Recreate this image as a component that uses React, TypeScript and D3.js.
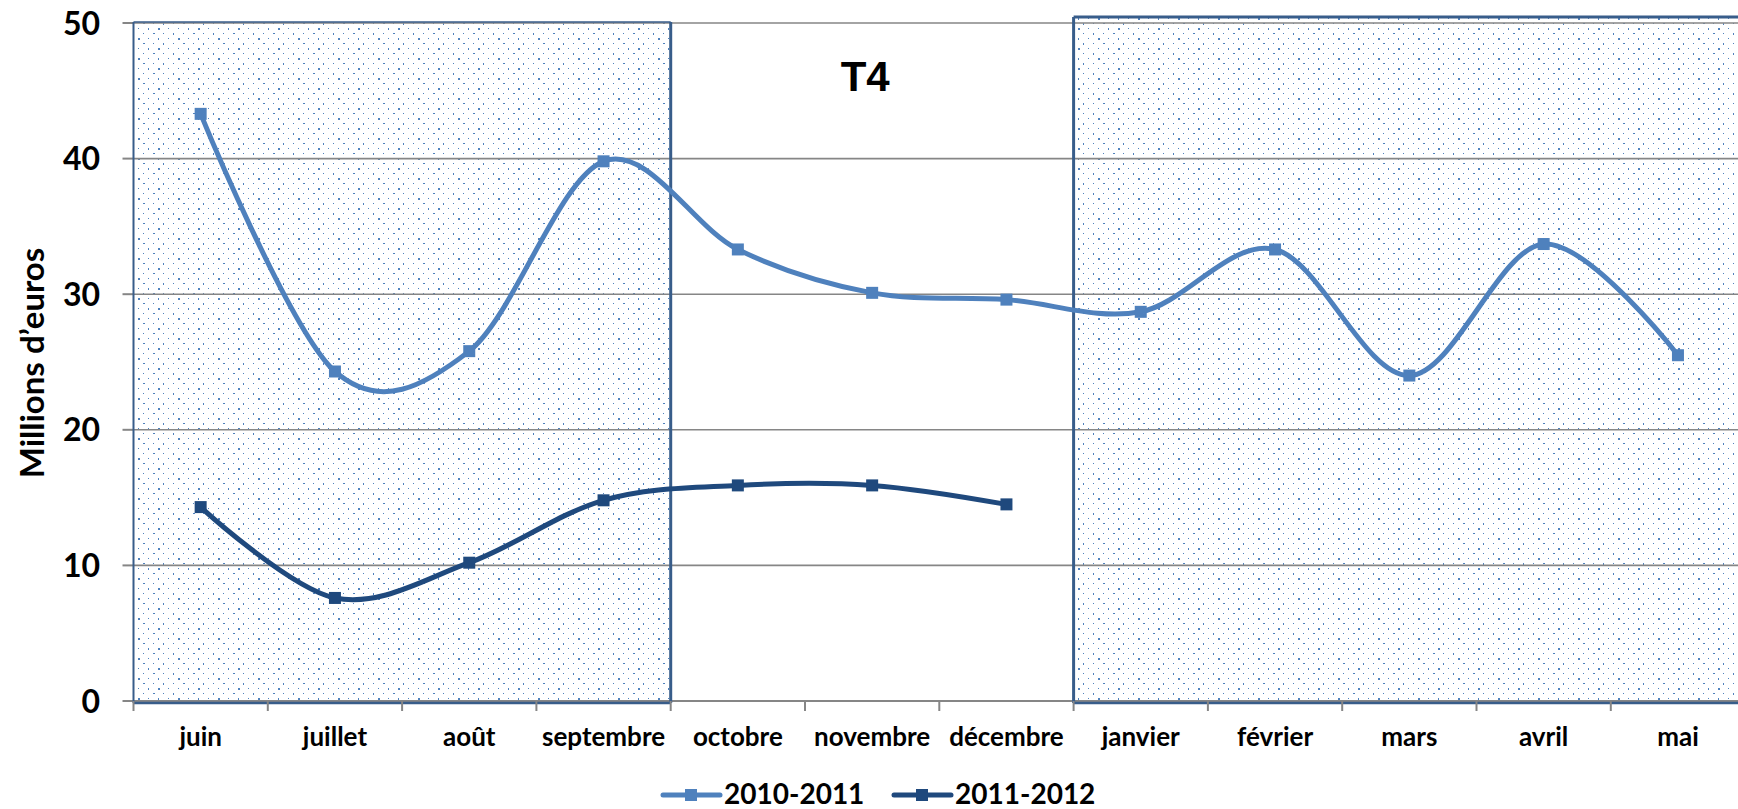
import React from 'react';
import * as d3 from 'd3';

// months of the fiscal year (juin -> mai)
const months = ['juin', 'juillet', 'août', 'septembre', 'octobre', 'novembre', 'décembre', 'janvier', 'février', 'mars', 'avril', 'mai'];
const series2010 = [43.3, 24.3, 25.8, 39.8, 33.3, 30.1, 29.6, 28.7, 33.3, 24.0, 33.7, 25.5];
const series2011 = [14.3, 7.6, 10.2, 14.8, 15.9, 15.9, 14.5];
const seriesNames = ['2010-2011', '2011-2012'];
const yTicks = [0, 10, 20, 30, 40, 50];
// shaded periods (first / last month), the white one in between is T4
const shaded = [['juin', 'septembre'], ['janvier', 'mai']];
const quarterLabel = { text: 'T4', from: 'octobre', to: 'décembre' };

const W = 1738;
const H = 809;
const left = 133.5;
const band = 134.3;
const gray = '#868686';
const boxBlue = '#385D8A';
const dotBlue = '#4F81BD';
const colors = ['#4F81BD', '#1F497D'];
const font = 'Lato, "Open Sans", sans-serif';

const App = () => {
    const x = d3.scaleBand().domain(months).range([left, left + band * months.length]).padding(0);
    const y = d3.scaleLinear().domain([0, 50]).range([701, 23]);
    const cx = (m) => x(m) + x.bandwidth() / 2;

    const line = d3.line()
        .x((d) => cx(d[0]))
        .y((d) => y(d[1]))
        .curve(d3.curveCatmullRom.alpha(0));

    const data = [series2010, series2011].map((s) => s.map((v, i) => [months[i], v]));

    return (
        <div style={{ position: 'absolute', left: 0, top: 0 }}>
            <svg width={W} height={H} style={{ display: 'block', background: '#fff' }}>
                <defs>
                    <pattern id="dots" width="40" height="20" patternUnits="userSpaceOnUse" x="133" y="23">
                        <rect width="40" height="20" fill="#fff" />
                        <g fill={dotBlue}>
                            <rect x="0" y="0" width="1" height="1" />
                            <rect x="10" y="0" width="2" height="1" />
                            <rect x="20" y="0" width="1" height="1" />
                            <rect x="30" y="0" width="1" height="2" />
                            <rect x="5" y="5" width="1" height="1" />
                            <rect x="15" y="5" width="1" height="2" />
                            <rect x="25" y="5" width="2" height="2" />
                            <rect x="35" y="5" width="1" height="1" />
                            <rect x="0" y="10" width="1" height="2" />
                            <rect x="10" y="10" width="1" height="1" />
                            <rect x="20" y="10" width="2" height="1" />
                            <rect x="30" y="10" width="1" height="1" />
                            <rect x="5" y="15" width="2" height="2" />
                            <rect x="15" y="15" width="1" height="1" />
                            <rect x="25" y="15" width="1" height="2" />
                            <rect x="35" y="15" width="1" height="1" />
                        </g>
                    </pattern>
                </defs>

                {/* shaded periods */}
                {shaded.map(([a, b], i) => {
                    const x0 = x(a);
                    const x1 = x(b) + x.bandwidth();
                    const top = i === 0 ? y(50) - 1 : y(50) - 6;
                    return (
                        <rect key={'bg' + i} x={x0} y={top} width={x1 - x0} height={y(0) - top + 1}
                            fill="url(#dots)" />
                    );
                })}

                {/* grid */}
                {yTicks.map((t) => (
                    <g key={'g' + t}>
                        <line x1={left} x2={W} y1={y(t)} y2={y(t)} stroke={gray} strokeWidth={t === 0 ? 2 : 1.6} />
                        <line x1={left - 11} x2={left} y1={y(t)} y2={y(t)} stroke={gray} strokeWidth={2} />
                        <text x={100} y={y(t)} dy="0.36em" textAnchor="end" fontFamily={font} fontWeight="bold"
                            fontSize={32} fill="#000">{t}</text>
                    </g>
                ))}

                {/* borders of shaded periods */}
                {shaded.map(([a, b], i) => {
                    const x0 = x(a);
                    const x1 = x(b) + x.bandwidth();
                    const top = i === 0 ? y(50) - 1 : y(50) - 6;
                    const sw = i === 0 ? 1.5 : 3;
                    return (
                        <g key={'bd' + i} fill="none" stroke={boxBlue}>
                            <line x1={x0} x2={x1} y1={top} y2={top} strokeWidth={sw} />
                            <line x1={x0} x2={x0} y1={top} y2={y(0) + 2} strokeWidth={i === 0 ? 2 : 3} />
                            <line x1={x1} x2={x1} y1={top} y2={y(0) + 2} strokeWidth={3} />
                            <line x1={x0} x2={x1} y1={y(0) + 2} y2={y(0) + 2} strokeWidth={2.5} />
                        </g>
                    );
                })}

                {/* x axis ticks and labels */}
                {d3.range(months.length + 1).map((i) => (
                    <line key={'xt' + i} x1={left + i * band} x2={left + i * band} y1={y(0)} y2={y(0) + 10}
                        stroke={gray} strokeWidth={2} />
                ))}
                {months.map((m) => (
                    <text key={'xl' + m} x={cx(m)} y={746} textAnchor="middle" fontFamily={font} fontWeight="bold"
                        fontSize={26} fill="#000">{m}</text>
                ))}

                {/* y axis title */}
                <text transform="translate(44,363) rotate(-90)" textAnchor="middle" fontFamily={font}
                    fontWeight="bold" fontSize={33} fill="#000">Millions d’euros</text>

                {/* quarter label */}
                <text x={(x(quarterLabel.from) + x(quarterLabel.to) + x.bandwidth()) / 2 - 7} y={91}
                    textAnchor="middle" fontFamily='"Liberation Sans", Arial, sans-serif' fontWeight="bold"
                    fontSize={42} fill="#000">{quarterLabel.text}</text>

                {/* series */}
                {data.map((d, si) => (
                    <g key={'s' + si}>
                        <path d={line(d)} fill="none" stroke={colors[si]} strokeWidth={5} strokeLinejoin="round" />
                        {d.map((p) => (
                            <rect key={p[0]} x={cx(p[0]) - 6} y={y(p[1]) - 6} width={12} height={12} fill={colors[si]} />
                        ))}
                    </g>
                ))}

                {/* legend */}
                {seriesNames.map((n, i) => {
                    const lx = i === 0 ? 663 : 894;
                    return (
                        <g key={'lg' + n}>
                            <line x1={lx} x2={lx + 57} y1={795} y2={795} stroke={colors[i]} strokeWidth={5}
                                strokeLinecap="round" />
                            <rect x={lx + 22} y={789} width={12} height={12} fill={colors[i]} />
                            <text x={lx + 61} y={804} fontFamily={font} fontWeight="bold" fontSize={28}
                                fill="#000">{n}</text>
                        </g>
                    );
                })}
            </svg>
        </div>
    );
};

export default App;
